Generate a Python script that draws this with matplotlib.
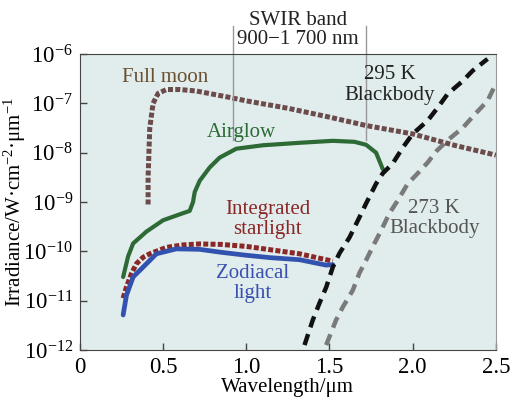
import numpy as np
import matplotlib
matplotlib.use('Agg')
import matplotlib.pyplot as plt

plt.rcParams['font.family'] = ['Liberation Serif', 'DejaVu Serif']
plt.rcParams['mathtext.fontset'] = 'custom'
plt.rcParams['mathtext.rm'] = 'Liberation Serif'
plt.rcParams['mathtext.it'] = 'Liberation Serif:italic'

# values (wavelength in um, log10 irradiance)
moon_x = [0.41, 0.41, 0.415, 0.42, 0.44, 0.47, 0.52, 0.6, 0.7, 0.9, 1.0, 1.25, 1.5, 1.72, 2.0, 2.25, 2.5]
moon_y = [-9.05, -8.5, -8.0, -7.5, -7.0, -6.8, -6.72, -6.72, -6.75, -6.88, -6.95, -7.1, -7.28, -7.45, -7.62, -7.85, -8.05]

air_x = [0.26, 0.29, 0.32, 0.4, 0.5, 0.6, 0.66, 0.68, 0.69, 0.72, 0.78, 0.84, 0.94, 1.1, 1.32, 1.52, 1.65, 1.72, 1.78, 1.82]
air_y = [-10.52, -10.1, -9.84, -9.6, -9.37, -9.25, -9.18, -9.0, -8.8, -8.57, -8.3, -8.1, -7.92, -7.85, -7.8, -7.76, -7.78, -7.84, -8.0, -8.33]

star_x = [0.26, 0.28, 0.31, 0.34, 0.38, 0.42, 0.52, 0.62, 0.72, 0.85, 1.0, 1.15, 1.32, 1.52]
star_y = [-10.95, -10.72, -10.45, -10.25, -10.12, -10.05, -9.92, -9.87, -9.85, -9.86, -9.9, -9.97, -10.05, -10.2]

zod_x = [0.26, 0.28, 0.32, 0.38, 0.46, 0.58, 0.72, 0.85, 1.0, 1.15, 1.32, 1.48, 1.52]
zod_y = [-11.29, -10.89, -10.52, -10.32, -10.05, -9.95, -9.96, -10.02, -10.08, -10.13, -10.17, -10.28, -10.27]

bb295_x = [1.35, 1.40, 1.44, 1.48, 1.52, 1.56, 1.62, 1.68, 1.72, 1.78, 1.82, 1.88, 1.94, 2.0, 2.09, 2.15, 2.21, 2.30, 2.36, 2.45]
bb295_y = [-11.9, -11.39, -11.05, -10.73, -10.32, -10.04, -9.72, -9.31, -9.03, -8.63, -8.42, -8.22, -7.9, -7.62, -7.35, -7.09, -6.81, -6.55, -6.34, -6.1]

bb273_x = [1.48, 1.54, 1.58, 1.64, 1.68, 1.72, 1.77, 1.81, 1.86, 1.91, 1.97, 2.03, 2.09, 2.145, 2.22, 2.30, 2.38, 2.45, 2.5]
bb273_y = [-11.9, -11.39, -11.13, -10.79, -10.44, -10.18, -9.84, -9.58, -9.23, -8.97, -8.63, -8.42, -8.2, -7.96, -7.72, -7.5, -7.2, -6.95, -6.6]

swir_x = [0.92, 1.72]

fig = plt.figure(figsize=(5.12, 4.0), dpi=100)
ax = fig.add_axes([0.156, 0.125, 0.8125, 0.74])
ax.set_facecolor('#e1ecec')

sq = (0, (1, 0.45))
ax.plot(moon_x, 10 ** np.array(moon_y), color='#6b4b4b', lw=3.6, ls=sq, dash_capstyle='butt')
ax.plot(air_x, 10 ** np.array(air_y), color='#2d6a35', lw=3.0, solid_capstyle='round')
ax.plot(star_x, 10 ** np.array(star_y), color='#8a2828', lw=3.6, ls=sq, dash_capstyle='butt')
ax.plot(zod_x, 10 ** np.array(zod_y), color='#3252b0', lw=3.4, solid_capstyle='round')
ax.plot(bb295_x, 10 ** np.array(bb295_y), color='#111111', lw=3.2, ls=(0, (2.6, 1.6)))
ax.plot(bb273_x, 10 ** np.array(bb273_y), color='#7a7a7a', lw=3.2, ls=(0, (2.6, 1.6)))

# SWIR band markers, reaching above the axes
for sx in swir_x:
    ax.plot([sx, sx], [10 ** -7.75, 10 ** -5.43], color='#999999', lw=1.0, clip_on=False)

ax.set_yscale('log')
ax.set_xlim(0, 2.5)
ax.set_ylim(1e-12, 1e-6)
ax.set_xticks([0, 0.5, 1.0, 1.5, 2.0, 2.5])
ax.set_xticklabels(['0', '0.5', '1.0', '1.5', '2.0', '2.5'])
ax.set_yticks([10.0 ** k for k in range(-12, -5)])
ax.minorticks_off()
ax.tick_params(direction='in', length=5, width=1, color='#444444', labelsize=16.5, pad=5)
for s in ax.spines.values():
    s.set_color('#444444')
ax.spines['right'].set_color('#999999')

ax.set_xlabel('Wavelength/μm', fontsize=15, labelpad=0)
ax.set_ylabel('Irradiance/W·cm$^{-2}$·μm$^{-1}$', fontsize=15, labelpad=-3)

kw = dict(fontsize=15, ha='center', va='center', linespacing=1.1)
ax.text(0.51, 10 ** -6.48, 'Full moon', color='#6b5030', **kw)
ax.text(0.97, 10 ** -7.6, 'Airglow', color='#2d6a35', **kw)
ax.text(1.13, 10 ** -9.35, 'Integrated\nstarlight', color='#8a2828', **kw)
ax.text(1.04, 10 ** -10.65, 'Zodiacal\nlight', color='#3a50b0', **kw)
ax.text(1.86, 10 ** -6.63, '295 K\nBlackbody', color='#222222', **kw)
ax.text(2.13, 10 ** -9.33, '273 K\nBlackbody', color='#555555', **kw)

fig.text(298 / 512, 1 - 30 / 400, 'SWIR band\n900−1 700 nm', fontsize=15, ha='center',
         va='center', linespacing=1.05, color='#222222')

fig.savefig('out.png', dpi=100)
